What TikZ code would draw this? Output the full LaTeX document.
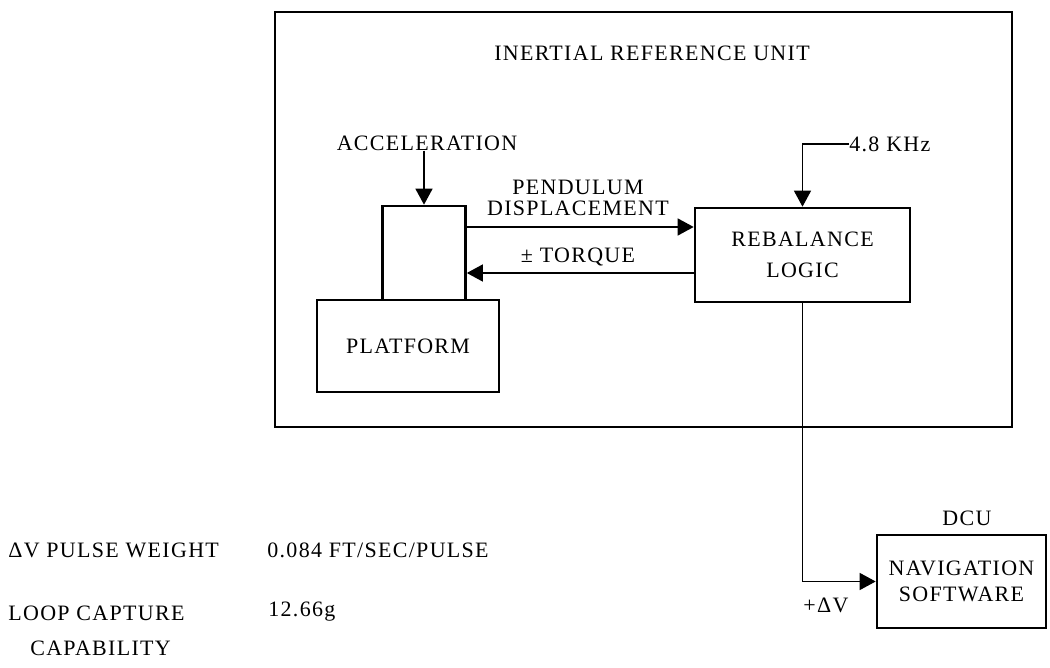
\documentclass[tikz,border=0pt]{standalone}
\usepackage{fontspec}
\setmainfont{Liberation Serif}[LetterSpace=6]
\usetikzlibrary{arrows.meta}

\begin{document}
\begin{tikzpicture}[
  x=0.2mm, y=-0.2mm,
  font=\fontsize{12.5}{15}\selectfont,
  box/.style={draw,line width=1.5pt,inner sep=0pt},
  lbl/.style={inner sep=0pt},
  arr/.style={line width=0.8pt,-{Triangle[length=3.2mm,width=3.4mm]}}
]
  \useasboundingbox (0,0) rectangle (1050,668);
  % inertial reference unit
  \node[box,minimum width=147.4mm,minimum height=83mm] (iru) at (643.5,219.5) {};
  \node[lbl] (title) at (652,53) {INERTIAL REFERENCE UNIT};
  \node[box,minimum width=36.4mm,minimum height=18.4mm] (plat) at (408,346) {PLATFORM};
  \node[box,minimum width=16.6mm,minimum height=18.8mm] (pend) at (424,253) {};
  \node[box,minimum width=43mm,minimum height=18.8mm,align=center,
        font=\fontsize{12.5}{17.5}\selectfont] (rebal) at (802.5,255) {REBALANCE\\LOGIC};
  \node[lbl] (acc) at (427,143) {ACCELERATION};
  \node[lbl,anchor=west] (clk) at (849,144) {4.8 KHz};
  \node[lbl,align=center,font=\fontsize{12.5}{11.5}\selectfont] (pdisp) at (578,198) {PENDULUM\\DISPLACEMENT};
  \node[lbl] (torq) at (578,257) {± TORQUE};
  % dcu
  \node[box,minimum width=33.8mm,minimum height=18.6mm,align=center] (nav) at (961.5,581.5) {NAVIGATION\\SOFTWARE};
  \node[lbl] (dcu) at (967,518) {DCU};
  \node[lbl] (dv) at (826,605) {+ΔV};
  % connectors
  \draw[arr] (acc.south -| pend.north) -- (pend.north);
  \draw[arr] (clk.west) -| (rebal.north);
  \draw[arr] (pend.east |- 0,227) -- (rebal.west |- 0,227);
  \draw[arr] (rebal.west |- 0,273) -- (pend.east |- 0,273);
  \draw[arr] (rebal.south) |- (nav.west);
  % data
  \node[lbl,anchor=west] (pw) at (8,550) {ΔV PULSE WEIGHT};
  \node[lbl,anchor=west] (pwv) at (267,550) {0.084 FT/SEC/PULSE};
  \node[lbl,anchor=west] (lc) at (8,613) {LOOP CAPTURE};
  \node[lbl,anchor=west] (lcv) at (268,612) {12.66g};
  \node[lbl,anchor=west] (lcb) at (30,648) {CAPABILITY};
\end{tikzpicture}
\end{document}
